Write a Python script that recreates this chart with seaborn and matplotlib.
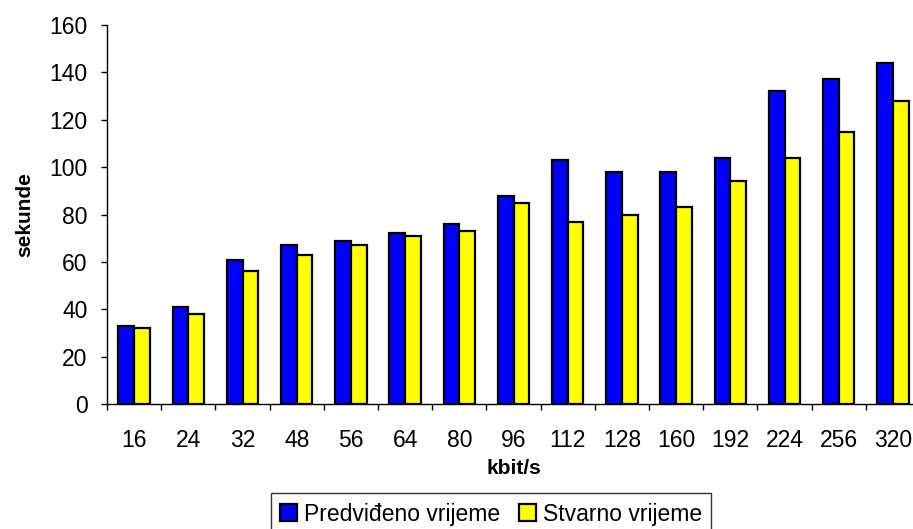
import matplotlib
matplotlib.use("Agg")
import matplotlib.pyplot as plt
import seaborn as sns
import pandas as pd
import numpy as np

bitrates = ["16", "24", "32", "48", "56", "64", "80", "96", "112", "128", "160", "192", "224", "256", "320"]
predicted = [33, 41, 61, 67, 69, 72, 76, 88, 103, 98, 98, 104, 132, 137, 144]
actual = [32, 38, 56, 63, 67, 71, 73, 85, 77, 80, 83, 94, 104, 115, 128]
series_names = ["Predviđeno vrijeme", "Stvarno vrijeme"]

df = pd.DataFrame({
    "kbit/s": bitrates * 2,
    "sekunde": predicted + actual,
    "serija": [series_names[0]] * len(bitrates) + [series_names[1]] * len(bitrates),
})

sns.set_theme(style="white")
plt.rcParams["font.family"] = ["Liberation Sans", "DejaVu Sans"]

W, H = 913, 529
fig = plt.figure(figsize=(W / 100, H / 100), dpi=100)
left, right, top, bottom = 107, 920, 25, 404
ax = fig.add_axes([left / W, 1 - bottom / H, (right - left) / W, (bottom - top) / H])

sns.barplot(
    data=df, x="kbit/s", y="sekunde", hue="serija", order=bitrates,
    hue_order=series_names, palette=["#0000FF", "#FFFF00"], saturation=1,
    width=0.58, edgecolor="black", linewidth=1.6, ax=ax, legend=True,
)

ax.set_xlim(-0.5, len(bitrates) - 0.5)
ax.set_ylim(0, 160)
ax.set_yticks(np.arange(0, 161, 20))
ax.tick_params(axis="y", which="major", left=True, length=4, width=1, color="black",
               labelsize=16.5, pad=10, labelcolor="black")
ax.set_xticks(range(len(bitrates)))
ax.set_xticklabels(bitrates)
ax.tick_params(axis="x", which="major", length=0, labelsize=16.5, pad=18, labelcolor="black")
ax.set_xticks(np.arange(-0.5, len(bitrates)), minor=True)
ax.tick_params(axis="x", which="minor", bottom=True, length=4, width=1, color="black")

for s in ["top", "right"]:
    ax.spines[s].set_visible(False)
for s in ["left", "bottom"]:
    ax.spines[s].set_color("black")
    ax.spines[s].set_linewidth(1)

ax.set_ylabel("sekunde", fontsize=15, fontweight="bold", labelpad=11, color="black")
ax.set_xlabel("kbit/s", fontsize=15, fontweight="bold", labelpad=5, color="black")

handles, labels = ax.get_legend_handles_labels()
ax.get_legend().remove()
leg = fig.legend(
    handles, labels, loc="center", bbox_to_anchor=(491 / W, 1 - 514 / H), ncol=2,
    fontsize=16.5, frameon=True, fancybox=False, edgecolor="black",
    handlelength=0.75, handleheight=0.75, handletextpad=0.3, columnspacing=0.8,
    borderpad=0.4, borderaxespad=0,
)
leg.get_frame().set_linewidth(1)
for t in leg.get_texts():
    t.set_color("black")

fig.savefig("out.png", dpi=100)
